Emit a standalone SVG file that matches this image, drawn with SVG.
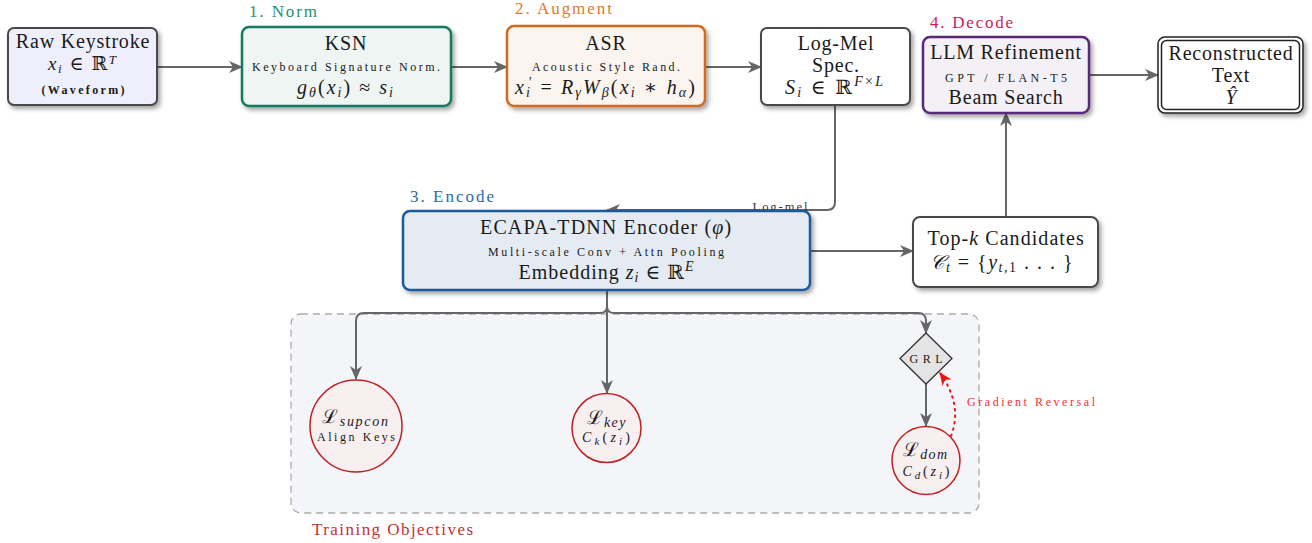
<svg xmlns="http://www.w3.org/2000/svg" width="1312" height="543" viewBox="0 0 1312 543">
<defs>
<filter id="sh" x="-10%" y="-10%" width="125%" height="135%">
<feDropShadow dx="2.5" dy="3" stdDeviation="2" flood-color="#000" flood-opacity="0.35"/>
</filter>
<marker id="ah" markerUnits="userSpaceOnUse" markerWidth="14" markerHeight="12" viewBox="0 0 14 12" refX="13" refY="6" orient="auto">
<path d="M0,0 L14,6 L0,12 L4,6 z" fill="#666"/>
</marker>
<marker id="ahr" markerUnits="userSpaceOnUse" markerWidth="13" markerHeight="12" viewBox="0 0 14 12" refX="13" refY="6" orient="auto">
<path d="M0,0 L14,6 L0,12 L4,6 z" fill="#ee1111"/>
</marker>
</defs>
<style>
text{font-family:"Liberation Serif","DejaVu Serif",serif;fill:#1a1a1a;text-anchor:middle}
.t{font-size:20px;letter-spacing:0.8px}
.m{font-size:20px}
.s{font-size:12px}
.i{font-style:italic}
.lab{font-size:17px;text-anchor:start}
.c{fill:none;stroke:#666;stroke-width:2}
.box{stroke-width:2.5}
.circ{fill:#f8eff0;stroke:#c02020;stroke-width:1.5}
</style>

<rect x="291" y="314" width="688" height="199" rx="10" fill="#f4f5f9" stroke="#aaa" stroke-width="1.3" stroke-dasharray="7,5"/>
<text class="lab" x="312" y="535" style="fill:#c83030" textLength="161" lengthAdjust="spacing">Training Objectives</text>

<g id="connectors">
<path class="c" d="M157,67 H242" marker-end="url(#ah)"/>
<path class="c" d="M451,67 H507" marker-end="url(#ah)"/>
<path class="c" d="M705,67 H761" marker-end="url(#ah)"/>
<path class="c" d="M1089,75 H1158" marker-end="url(#ah)"/>
<path class="c" d="M835,105 V202 Q835,210 827,210 H607" marker-end="url(#ah)"/>
<text x="780" y="211" style="font-size:12.5px;fill:#333" textLength="55" lengthAdjust="spacing">Log-mel</text>
<path class="c" d="M810,251 H913" marker-end="url(#ah)"/>
<path class="c" d="M1006,217 V113" marker-end="url(#ah)"/>
<path class="c" d="M607,290 V393" marker-end="url(#ah)"/>
<path class="c" d="M607,292 V306 Q607,313 600,313 H364 Q356,313 356,321 V379" marker-end="url(#ah)"/>
<path class="c" d="M607,306 Q607,313 614,313 H918 Q926,313 926,321 V333" marker-end="url(#ah)"/>
<path class="c" d="M926,384 V426" marker-end="url(#ah)"/>
<path d="M951,436 Q963,405 940,373" fill="none" stroke="#ee1111" stroke-width="2" stroke-dasharray="1.5,5" stroke-linecap="round" marker-end="url(#ahr)"/>
<text x="967" y="406" style="font-size:12px;fill:#ee3333;text-anchor:start" textLength="128" lengthAdjust="spacing">Gradient Reversal</text>
</g>

<g id="raw">
<rect x="8" y="28" width="149" height="77" rx="6" fill="#efeffb" stroke="#4a4a4a" stroke-width="2" filter="url(#sh)"/>
<text class="t" x="83" y="48">Raw Keystroke</text>
<text x="82" y="70" style="font-size:19px" textLength="68" lengthAdjust="spacing"><tspan class="i">x</tspan><tspan class="i" font-size="13" dy="3">i</tspan><tspan dy="-3"> ∈ ℝ</tspan><tspan class="i" font-size="13" dy="-6">T</tspan></text>
<text class="s" x="83" y="94" style="font-weight:bold" textLength="83" lengthAdjust="spacing">(Waveform)</text>
</g>

<g id="ksn">
<text class="lab" x="249" y="17" style="fill:#1e9070" textLength="68" lengthAdjust="spacing">1. Norm</text>
<rect x="242" y="27" width="209" height="79" rx="7" fill="#eef5f2" stroke="#127a5e" class="box" filter="url(#sh)"/>
<text class="t" x="346" y="50">KSN</text>
<text class="s" x="346" y="71" textLength="188" lengthAdjust="spacing">Keyboard Signature Norm.</text>
<text class="m" x="345" y="94" textLength="96" lengthAdjust="spacing"><tspan class="i">g</tspan><tspan class="i" font-size="14" dy="3">θ</tspan><tspan dy="-3">(</tspan><tspan class="i">x</tspan><tspan class="i" font-size="14" dy="3">i</tspan><tspan dy="-3">) ≈ </tspan><tspan class="i">s</tspan><tspan class="i" font-size="14" dy="3">i</tspan></text>
</g>

<g id="asr">
<text class="lab" x="515" y="14" style="fill:#e07a30" textLength="97" lengthAdjust="spacing">2. Augment</text>
<rect x="507" y="26" width="198" height="80" rx="7" fill="#fbf4ef" stroke="#d06a20" class="box" filter="url(#sh)"/>
<text class="t" x="606" y="50">ASR</text>
<text class="s" x="606" y="71" textLength="148" lengthAdjust="spacing">Acoustic Style Rand.</text>
<text class="m" x="605" y="94" textLength="180" lengthAdjust="spacing"><tspan class="i">x</tspan><tspan class="i" font-size="14" dy="3">i</tspan><tspan class="i" font-size="14" dx="-4" dy="-10">′</tspan><tspan dy="7"> = </tspan><tspan class="i">R</tspan><tspan class="i" font-size="14" dy="3">γ</tspan><tspan class="i" dy="-3">W</tspan><tspan class="i" font-size="14" dy="3">β</tspan><tspan dy="-3">(</tspan><tspan class="i">x</tspan><tspan class="i" font-size="14" dy="3">i</tspan><tspan dy="-3"> ∗ </tspan><tspan class="i">h</tspan><tspan class="i" font-size="14" dy="3">α</tspan><tspan dy="-3">)</tspan></text>
</g>

<g id="logmel">
<rect x="761" y="28" width="149" height="77" rx="6" fill="#fff" stroke="#4a4a4a" stroke-width="2" filter="url(#sh)"/>
<text class="t" x="836" y="50">Log-Mel</text>
<text class="t" x="836" y="72">Spec.</text>
<text class="m" x="834" y="94" textLength="98" lengthAdjust="spacing"><tspan class="i">S</tspan><tspan class="i" font-size="14" dy="3">i</tspan><tspan dy="-3"> ∈ ℝ</tspan><tspan class="i" font-size="14" dy="-8">F</tspan><tspan font-size="14">×</tspan><tspan class="i" font-size="14">L</tspan></text>
</g>

<g id="llm">
<text class="lab" x="930" y="28" style="fill:#d01a5a" textLength="83" lengthAdjust="spacing">4. Decode</text>
<rect x="923" y="37" width="166" height="76" rx="7" fill="#f3f1f5" stroke="#5a2a7a" class="box" filter="url(#sh)"/>
<text class="t" x="1006" y="59">LLM Refinement</text>
<text class="s" x="1006" y="82" textLength="122" lengthAdjust="spacing">GPT / FLAN-T5</text>
<text class="t" x="1006" y="104">Beam Search</text>
</g>

<g id="recon">
<rect x="1158" y="37" width="145" height="76" rx="7" fill="#fff" stroke="#222" stroke-width="1.5" filter="url(#sh)"/>
<rect x="1161.5" y="40.5" width="138" height="69" rx="5" fill="none" stroke="#222" stroke-width="1.5"/>
<text class="t" x="1231" y="60" textLength="125" lengthAdjust="spacing">Reconstructed</text>
<text class="t" x="1231" y="82">Text</text>
<text class="m i" x="1231" y="104">Ŷ</text>
</g>

<g id="encoder">
<text class="lab" x="410" y="202" style="fill:#2a6aa8" textLength="84" lengthAdjust="spacing">3. Encode</text>
<rect x="403" y="211" width="407" height="79" rx="7" fill="#e4ebf2" stroke="#1a5a9a" class="box" filter="url(#sh)"/>
<text class="t" x="606" y="234" textLength="252" lengthAdjust="spacing">ECAPA-TDNN Encoder (<tspan class="i">φ</tspan>)</text>
<text class="s" x="606" y="256" textLength="236" lengthAdjust="spacing">Multi-scale Conv + Attn Pooling</text>
<text class="m" x="606" y="279" textLength="175" lengthAdjust="spacing">Embedding <tspan class="i">z</tspan><tspan class="i" font-size="14" dy="3">i</tspan><tspan dy="-3"> ∈ ℝ</tspan><tspan class="i" font-size="14" dy="-8">E</tspan></text>
</g>

<g id="topk">
<rect x="913" y="217" width="185" height="70" rx="7" fill="#fff" stroke="#4a4a4a" stroke-width="2" filter="url(#sh)"/>
<text class="t" x="1006" y="245" textLength="157" lengthAdjust="spacing">Top-<tspan class="i">k</tspan> Candidates</text>
<text class="m" x="1001" y="269" textLength="143" lengthAdjust="spacing"><tspan class="i">𝒞</tspan><tspan class="i" font-size="14" dy="3">t</tspan><tspan dy="-3"> = {</tspan><tspan class="i">y</tspan><tspan class="i" font-size="14" dy="3">t,</tspan><tspan font-size="14">1</tspan><tspan dy="-3"> . . . }</tspan></text>
</g>

<g id="supcon">
<circle cx="356" cy="426" r="46" class="circ"/>
<text x="355" y="423" style="font-size:19px" textLength="66" lengthAdjust="spacing"><tspan>ℒ</tspan><tspan class="i" font-size="14" dy="3">supcon</tspan></text>
<text class="s" x="356" y="441" textLength="78" lengthAdjust="spacing">Align Keys</text>
</g>

<g id="key">
<circle cx="606.5" cy="428" r="34.5" class="circ"/>
<text x="606" y="424" style="font-size:19px" textLength="39" lengthAdjust="spacing"><tspan>ℒ</tspan><tspan class="i" font-size="14" dy="3">key</tspan></text>
<text x="606" y="442" style="font-size:14px" textLength="48" lengthAdjust="spacing"><tspan class="i">C</tspan><tspan class="i" font-size="11" dy="3">k</tspan><tspan dy="-3">(</tspan><tspan class="i">z</tspan><tspan class="i" font-size="11" dy="3">i</tspan><tspan dy="-3">)</tspan></text>
</g>

<g id="grl">
<polygon points="926,333 952,358.5 926,384 900,358.5" fill="#e4e4e4" stroke="#333" stroke-width="1.3"/>
<text x="926" y="363" style="font-size:12px" textLength="33" lengthAdjust="spacing">GRL</text>
</g>

<g id="dom">
<circle cx="926" cy="460.5" r="34" class="circ"/>
<text x="925" y="456" style="font-size:19px" textLength="44" lengthAdjust="spacing"><tspan>ℒ</tspan><tspan class="i" font-size="14" dy="3">dom</tspan></text>
<text x="926" y="476" style="font-size:14px" textLength="47" lengthAdjust="spacing"><tspan class="i">C</tspan><tspan class="i" font-size="11" dy="3">d</tspan><tspan dy="-3">(</tspan><tspan class="i">z</tspan><tspan class="i" font-size="11" dy="3">i</tspan><tspan dy="-3">)</tspan></text>
</g>
</svg>
